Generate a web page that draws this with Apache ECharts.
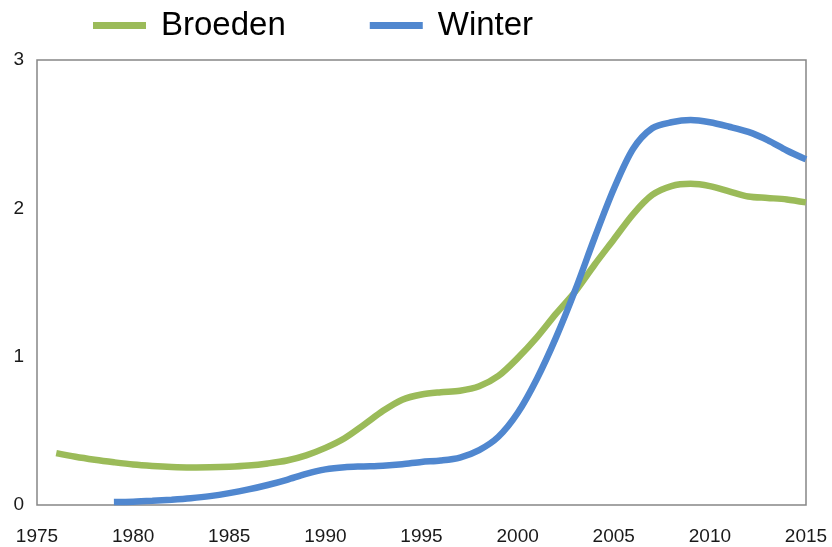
<!DOCTYPE html>
<html><head><meta charset="utf-8">
<script src="https://cdn.jsdelivr.net/npm/echarts@6/dist/echarts.min.js"></script>
<style>html,body{margin:0;padding:0;background:#fff}#c{width:832px;height:547px}</style>
</head><body><div id="c"></div>
<script>
const broedenYears = [1976,1977,1978,1979,1980,1981,1982,1983,1984,1985,1986,1987,1988,1989,1990,1991,1992,1993,1994,1995,1996,1997,1998,1999,2000,2001,2002,2003,2004,2005,2006,2007,2008,2009,2010,2011,2012,2013,2014,2015];
const broedenValues = [0.35,0.325,0.305,0.288,0.273,0.263,0.256,0.253,0.254,0.258,0.266,0.28,0.30,0.335,0.385,0.45,0.54,0.635,0.71,0.745,0.76,0.77,0.80,0.87,0.99,1.13,1.29,1.44,1.62,1.79,1.96,2.09,2.15,2.165,2.15,2.115,2.08,2.07,2.06,2.04];
const winterYears = [1979,1980,1981,1982,1983,1984,1985,1986,1987,1988,1989,1990,1991,1992,1993,1994,1995,1996,1997,1998,1999,2000,2001,2002,2003,2004,2005,2006,2007,2008,2009,2010,2011,2012,2013,2014,2015];
const winterValues = [0.02,0.022,0.028,0.036,0.046,0.06,0.08,0.105,0.135,0.17,0.21,0.24,0.255,0.26,0.265,0.275,0.29,0.30,0.32,0.37,0.46,0.62,0.85,1.13,1.45,1.80,2.13,2.40,2.54,2.58,2.595,2.58,2.55,2.515,2.46,2.39,2.33];
const seriesNames = ['Broeden','Winter'];

const chart = echarts.init(document.getElementById('c'));
const font = 'Liberation Sans, Arial, sans-serif';
chart.setOption({
  animation:false,
  legend:{
    left:88, top:4, itemWidth:53, itemHeight:7, itemGap:84, icon:'rect',
    textStyle:{fontSize:33, color:'#000', fontFamily:font, padding:[0,0,0,10]},
    data:seriesNames
  },
  grid:{left:37, right:26, top:60, bottom:42, show:true, borderColor:'#868686', borderWidth:1.5, backgroundColor:'#fff'},
  xAxis:{type:'value', min:1975, max:2015, interval:5,
    axisLine:{show:false}, axisTick:{show:false}, splitLine:{show:false},
    axisLabel:{fontSize:19, color:'#1a1a1a', fontFamily:font, margin:22, formatter:v=>String(v)}},
  yAxis:{type:'value', min:0, max:3, interval:1,
    axisLine:{show:false}, axisTick:{show:false}, splitLine:{show:false},
    axisLabel:{fontSize:19, color:'#1a1a1a', fontFamily:font, margin:13}},
  series:[
    {name:seriesNames[0], type:'line', smooth:0.3, showSymbol:false, color:'#9bbb59',
     lineStyle:{width:6.5, color:'#9bbb59'},
     data:broedenYears.map((y,i)=>[y,broedenValues[i]])},
    {name:seriesNames[1], type:'line', smooth:0.3, showSymbol:false, color:'#5087cf',
     lineStyle:{width:6.5, color:'#5087cf'},
     data:winterYears.map((y,i)=>[y,winterValues[i]])}
  ]
});
</script></body></html>
